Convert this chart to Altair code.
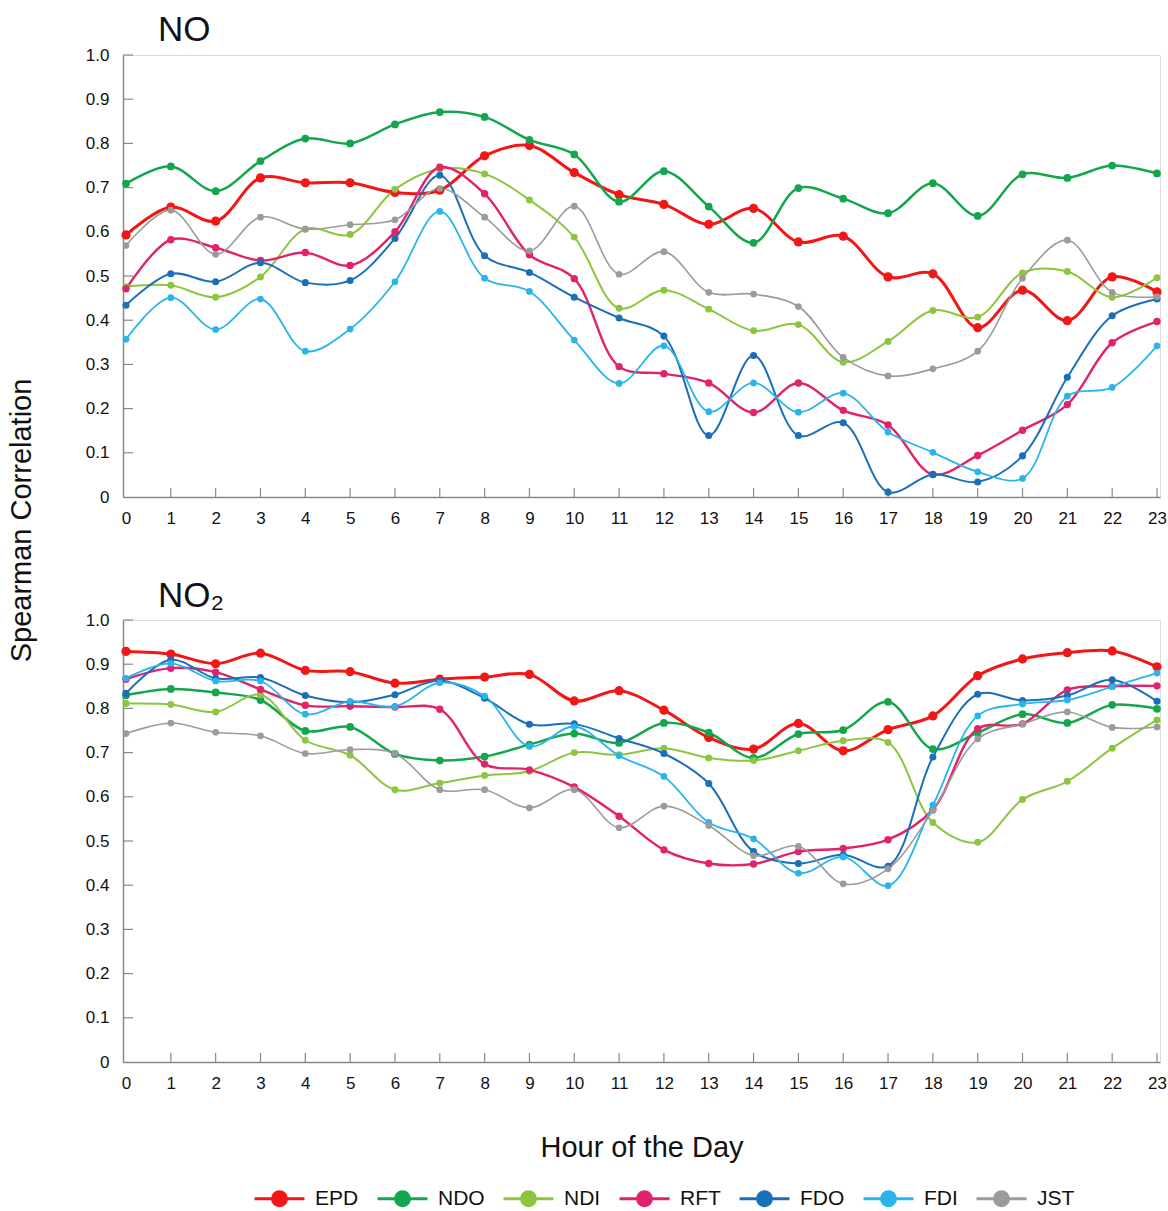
import altair as alt
import pandas as pd

hours = list(range(24))
series = ["EPD", "NDO", "NDI", "RFT", "FDO", "FDI", "JST"]
colors = ["#f21616", "#14a64c", "#8cc63f", "#e2226c", "#1b6fba", "#29b5ec", "#9b9b9b"]
widths = [3.0, 2.5, 2.0, 2.4, 2.0, 1.8, 1.6]
dot_sizes = [85, 60, 48, 55, 50, 45, 45]

# NO panel
no_EPD = [0.593,0.656,0.624,0.722,0.711,0.711,0.689,0.694,0.772,0.795,0.734,0.684,0.662,0.617,0.653,0.577,0.590,0.498,0.505,0.383,0.468,0.399,0.498,0.464]
no_NDO = [0.709,0.748,0.692,0.760,0.811,0.800,0.843,0.871,0.860,0.808,0.775,0.668,0.737,0.657,0.575,0.699,0.675,0.642,0.710,0.636,0.730,0.722,0.750,0.732]
no_NDI = [0.476,0.479,0.452,0.498,0.606,0.594,0.696,0.742,0.731,0.672,0.588,0.427,0.468,0.425,0.376,0.390,0.305,0.352,0.422,0.407,0.507,0.510,0.452,0.496]
no_RFT = [0.471,0.582,0.564,0.535,0.553,0.524,0.600,0.746,0.686,0.548,0.494,0.295,0.279,0.258,0.191,0.258,0.196,0.163,0.051,0.094,0.151,0.209,0.349,0.397]
no_FDO = [0.434,0.505,0.487,0.530,0.485,0.490,0.585,0.728,0.546,0.508,0.452,0.405,0.364,0.139,0.320,0.139,0.168,0.011,0.051,0.034,0.093,0.271,0.410,0.448]
no_FDI = [0.357,0.451,0.379,0.448,0.330,0.380,0.487,0.646,0.495,0.465,0.355,0.257,0.342,0.193,0.258,0.192,0.235,0.147,0.101,0.057,0.042,0.228,0.248,0.342]
no_JST = [0.569,0.649,0.549,0.633,0.606,0.616,0.627,0.698,0.633,0.557,0.658,0.504,0.555,0.463,0.459,0.431,0.316,0.274,0.290,0.330,0.495,0.581,0.463,0.453]

# NO2 panel
no2_EPD = [0.929,0.923,0.901,0.925,0.886,0.883,0.857,0.866,0.871,0.877,0.817,0.840,0.796,0.734,0.708,0.766,0.704,0.752,0.783,0.874,0.912,0.926,0.930,0.894]
no2_NDO = [0.830,0.844,0.836,0.819,0.749,0.758,0.697,0.682,0.691,0.718,0.743,0.722,0.767,0.745,0.688,0.742,0.751,0.815,0.708,0.745,0.787,0.767,0.808,0.799]
no2_NDI = [0.811,0.809,0.792,0.831,0.728,0.694,0.616,0.631,0.648,0.658,0.700,0.695,0.710,0.688,0.682,0.704,0.727,0.723,0.542,0.497,0.594,0.635,0.710,0.774]
no2_RFT = [0.866,0.891,0.882,0.843,0.807,0.805,0.803,0.798,0.674,0.661,0.622,0.556,0.480,0.449,0.448,0.476,0.483,0.503,0.571,0.754,0.765,0.842,0.850,0.851]
no2_FDO = [0.834,0.910,0.868,0.870,0.829,0.814,0.831,0.863,0.823,0.764,0.765,0.732,0.698,0.630,0.476,0.449,0.469,0.443,0.690,0.832,0.818,0.829,0.865,0.816]
no2_FDI = [0.868,0.902,0.862,0.862,0.787,0.816,0.804,0.858,0.828,0.714,0.759,0.693,0.646,0.542,0.505,0.427,0.464,0.399,0.581,0.783,0.810,0.819,0.849,0.880]
no2_JST = [0.743,0.767,0.746,0.738,0.698,0.707,0.698,0.616,0.616,0.575,0.616,0.530,0.579,0.535,0.467,0.488,0.403,0.437,0.569,0.731,0.765,0.792,0.757,0.758]

y_ticks = [0, 0.1, 0.2, 0.3, 0.4, 0.5, 0.6, 0.7, 0.8, 0.9, 1.0]

FONT = "Liberation Sans"
W, H = 1037, 442


def make_df(vals):
    rows = []
    for name, v in zip(series, vals):
        for h, val in zip(hours, v):
            rows.append({"hour": h, "value": val, "series": name})
    return pd.DataFrame(rows)


df_no = make_df([no_EPD, no_NDO, no_NDI, no_RFT, no_FDO, no_FDI, no_JST])
df_no2 = make_df([no2_EPD, no2_NDO, no2_NDI, no2_RFT, no2_FDO, no2_FDI, no2_JST])

xscale = alt.Scale(domain=[-0.067, 23.067], nice=False, zero=False)
yscale = alt.Scale(domain=[0, 1], nice=False)
cscale = alt.Scale(domain=series, range=colors)

# legend symbol: a line with a dot in the middle (wide path in a small symbol box)
legend_path = "M-4,0L4,0M-1.12,0A1.12,1.12,0,1,1,1.12,0A1.12,1.12,0,1,1,-1.12,0Z"
legend = alt.Legend(
    title=None, orient="none", direction="horizontal", legendX=146, legendY=1133,
    symbolType=legend_path, symbolSize=156, symbolStrokeWidth=3,
    labelFont=FONT, labelFontSize=21, labelColor="#111", labelOffset=25,
    columnPadding=12, columns=7,
)


def panel(df, title_text, first, title_offset):
    xaxis = alt.Axis(
        values=hours, format="d", ticks=False, grid=False, labelFont=FONT,
        labelFontSize=17, labelColor="#111", labelPadding=13, domainColor="#888",
        domainWidth=1.5, titleFont=FONT, titleFontSize=29, titleFontWeight="normal",
        titleColor="#111", titleY=85, titleBaseline="middle",
    )
    yaxis_kw = dict(
        values=y_ticks, ticks=False, grid=False, labelFont=FONT, labelFontSize=17,
        labelColor="#111", labelPadding=14, domainColor="#888", domainWidth=1.5,
        labelExpr="datum.value == 0 ? '0' : format(datum.value, '.1f')",
    )
    if first:
        yaxis = alt.Axis(
            titleFont=FONT, titleFontSize=29, titleFontWeight="normal", titleColor="#111",
            titleX=-102, titleY=465, titleAngle=-90, titleAlign="center",
            titleBaseline="middle", **yaxis_kw,
        )
        ytitle = "Spearman Correlation"
        xtitle = None
    else:
        yaxis = alt.Axis(**yaxis_kw)
        ytitle = None
        xtitle = "Hour of the Day"

    x_enc = alt.X("hour:Q", scale=xscale, axis=xaxis, title=xtitle)
    y_enc = alt.Y("value:Q", scale=yscale, axis=yaxis, title=ytitle)

    base = alt.Chart(df)
    line_layers = []
    dot_layers = []
    for name, w, s in zip(series, widths, dot_sizes):
        sub = base.transform_filter(alt.datum.series == name)
        line_layers.append(
            sub.mark_line(interpolate="catmull-rom", strokeWidth=w).encode(
                x=x_enc, y=y_enc,
                stroke=alt.Stroke("series:N", scale=cscale, legend=legend),
            )
        )
        dot_layers.append(
            sub.mark_circle(size=s, opacity=1).encode(
                x=x_enc, y=y_enc,
                fill=alt.Fill("series:N", scale=cscale, legend=legend),
            )
        )

    ytick_rules = alt.Chart(pd.DataFrame({"v": y_ticks[1:]})).mark_rule(
        color="#888", strokeWidth=1.2
    ).encode(y=alt.Y("v:Q", scale=yscale), x=alt.value(0), x2=alt.value(10))
    xtick_rules = alt.Chart(pd.DataFrame({"h": hours[1:]})).mark_rule(
        color="#888", strokeWidth=1.2
    ).encode(x=alt.X("h:Q", scale=xscale), y=alt.value(H), y2=alt.value(H - 9))

    return alt.layer(ytick_rules, xtick_rules, *line_layers, *dot_layers).properties(
        width=W, height=H,
        title=alt.TitleParams(
            text=title_text, anchor="start", frame="group", dx=35, offset=title_offset,
            font=FONT, fontSize=35, fontWeight="normal", color="#111",
        ),
    )


chart = alt.vconcat(
    panel(df_no, "NO", True, -2),
    panel(df_no2, "NO\u2082", False, -3),
    spacing=123, bounds="flush",
).properties(
    padding={"left": 6, "top": 12, "right": 0, "bottom": 0},
).configure_view(stroke=None).configure(background="white")

chart.save("out.html", embed_options={"renderer": "svg", "actions": False})
